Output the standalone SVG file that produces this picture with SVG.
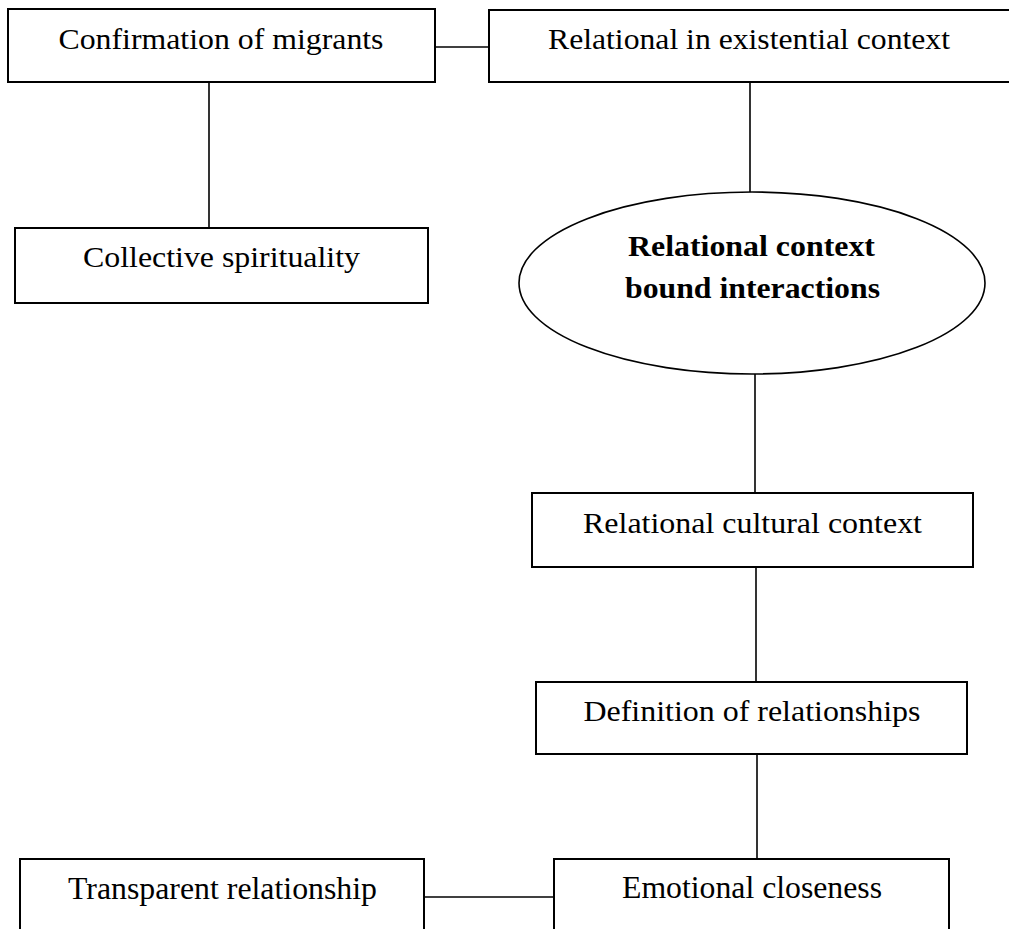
<svg xmlns="http://www.w3.org/2000/svg" width="1009" height="929" viewBox="0 0 1009 929">
<style>
.box{fill:#fff;stroke:#000;stroke-width:2}
.ell{fill:#fff;stroke:#000;stroke-width:1.6}
.con{stroke:#000;stroke-width:1.6;fill:none}
.t{font-family:"Liberation Serif","Times New Roman",serif;fill:#000;text-anchor:middle}
.b{font-weight:bold}
</style>
<rect width="1009" height="929" fill="#fff"/>
<g id="connectors">
<line class="con" x1="435" y1="47" x2="489" y2="47"/>
<line class="con" x1="209" y1="82" x2="209" y2="228"/>
<line class="con" x1="750" y1="82" x2="750" y2="192"/>
<line class="con" x1="755" y1="374" x2="755" y2="493"/>
<line class="con" x1="756" y1="567" x2="756" y2="682"/>
<line class="con" x1="757" y1="754" x2="757" y2="859"/>
<line class="con" x1="424" y1="897" x2="554" y2="897"/>
</g>
<g id="n1">
<rect class="box" x="8" y="9" width="427" height="73"/>
<text class="t" x="221" y="49" font-size="30" textLength="325" lengthAdjust="spacingAndGlyphs">Confirmation of migrants</text>
</g>
<g id="n2">
<rect class="box" x="489" y="10" width="530" height="72"/>
<text class="t" x="749" y="49" font-size="30" textLength="402" lengthAdjust="spacingAndGlyphs">Relational in existential context</text>
</g>
<g id="n3">
<rect class="box" x="15" y="228" width="413" height="75"/>
<text class="t" x="221.5" y="267" font-size="30" textLength="277" lengthAdjust="spacingAndGlyphs">Collective spirituality</text>
</g>
<g id="n4">
<ellipse class="ell" cx="752" cy="283" rx="233" ry="91"/>
<text class="t b" x="751.5" y="256" font-size="29" textLength="247" lengthAdjust="spacingAndGlyphs">Relational context</text>
<text class="t b" x="752.5" y="298" font-size="29" textLength="255" lengthAdjust="spacingAndGlyphs">bound interactions</text>
</g>
<g id="n5">
<rect class="box" x="532" y="493" width="441" height="74"/>
<text class="t" x="752.5" y="533" font-size="30" textLength="339" lengthAdjust="spacingAndGlyphs">Relational cultural context</text>
</g>
<g id="n6">
<rect class="box" x="536" y="682" width="431" height="72"/>
<text class="t" x="752" y="721" font-size="30" textLength="337" lengthAdjust="spacingAndGlyphs">Definition of relationships</text>
</g>
<g id="n7">
<rect class="box" x="20" y="859" width="404" height="90"/>
<text class="t" x="222.5" y="899" font-size="32" textLength="309" lengthAdjust="spacingAndGlyphs">Transparent relationship</text>
</g>
<g id="n8">
<rect class="box" x="554" y="859" width="395" height="90"/>
<text class="t" x="752" y="898" font-size="32" textLength="260" lengthAdjust="spacingAndGlyphs">Emotional closeness</text>
</g>
</svg>
